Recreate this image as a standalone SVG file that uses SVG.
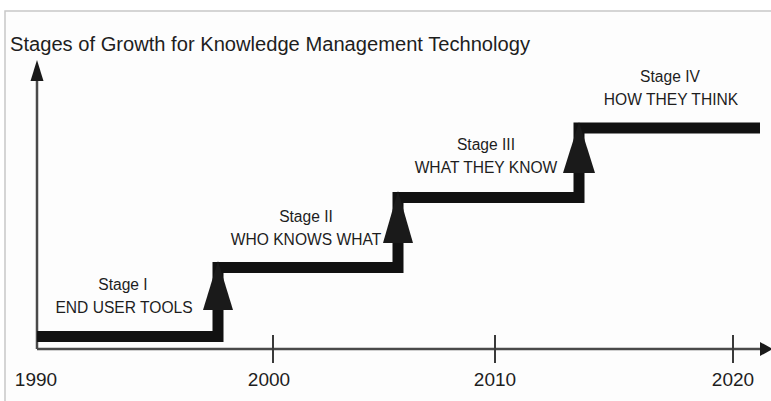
<svg xmlns="http://www.w3.org/2000/svg" width="771" height="401" viewBox="0 0 771 401">
  <style>
    .frame { fill: #fdfdfd; stroke: #c8c8c8; stroke-width: 1.5; }
    .axis { fill: none; stroke: #4a4a4a; stroke-width: 2.5; }
    .tick { fill: none; stroke: #3a3a3a; stroke-width: 2; }
    .head { fill: #1a1a1a; }
    .step { fill: none; stroke: #111; stroke-width: 11; stroke-linejoin: miter; stroke-linecap: butt; }
    .title { font-family: "Liberation Sans", Arial, sans-serif; font-size: 20px; fill: #1e1e1e; }
    .label { font-family: "Liberation Sans", Arial, sans-serif; font-size: 15.6px; fill: #1e1e1e; text-anchor: middle; }
    .year { font-family: "Liberation Sans", Arial, sans-serif; font-size: 19px; fill: #1e1e1e; text-anchor: middle; }
  </style>

  <!-- panel frame: only top and left edges are visible -->
  <rect x="0" y="0" width="771" height="401" fill="#ffffff"/>
  <rect x="5" y="11" width="780" height="400" class="frame"/>

  <text class="title" x="10" y="51" textLength="520" lengthAdjust="spacingAndGlyphs">Stages of Growth for Knowledge Management Technology</text>

  <!-- axes -->
  <g id="axes">
    <path class="axis" d="M37,349 V74"/>
    <polygon class="head" points="37,60 30.5,81 43.5,81"/>
    <path class="axis" d="M37,349 H760"/>
    <polygon class="head" points="773,349 760,342 760,356"/>
    <path class="tick" d="M273,335 V363 M495,335 V363 M733,335 V363"/>
    <text class="year" x="36" y="386">1990</text>
    <text class="year" x="269" y="386">2000</text>
    <text class="year" x="495" y="386">2010</text>
    <text class="year" x="733" y="386">2020</text>
  </g>

  <!-- growth staircase with an arrowhead at each step-up -->
  <g id="connectors">
    <path class="step" d="M37,336.5 H218 V267.5 H398 V197.5 H579 V128 H760"/>
    <polygon class="head" points="218,261 203,310 233,310"/>
    <polygon class="head" points="398,191 383,243 413,243"/>
    <polygon class="head" points="579,122 563,173 595,173"/>
  </g>

  <g id="stage1">
    <text class="label" x="123" y="290">Stage I</text>
    <text class="label" x="124" y="313">END USER TOOLS</text>
  </g>
  <g id="stage2">
    <text class="label" x="306" y="222">Stage II</text>
    <text class="label" x="306" y="245">WHO KNOWS WHAT</text>
  </g>
  <g id="stage3">
    <text class="label" x="486" y="150">Stage III</text>
    <text class="label" x="486" y="173">WHAT THEY KNOW</text>
  </g>
  <g id="stage4">
    <text class="label" x="670" y="82">Stage IV</text>
    <text class="label" x="671" y="105">HOW THEY THINK</text>
  </g>
</svg>
